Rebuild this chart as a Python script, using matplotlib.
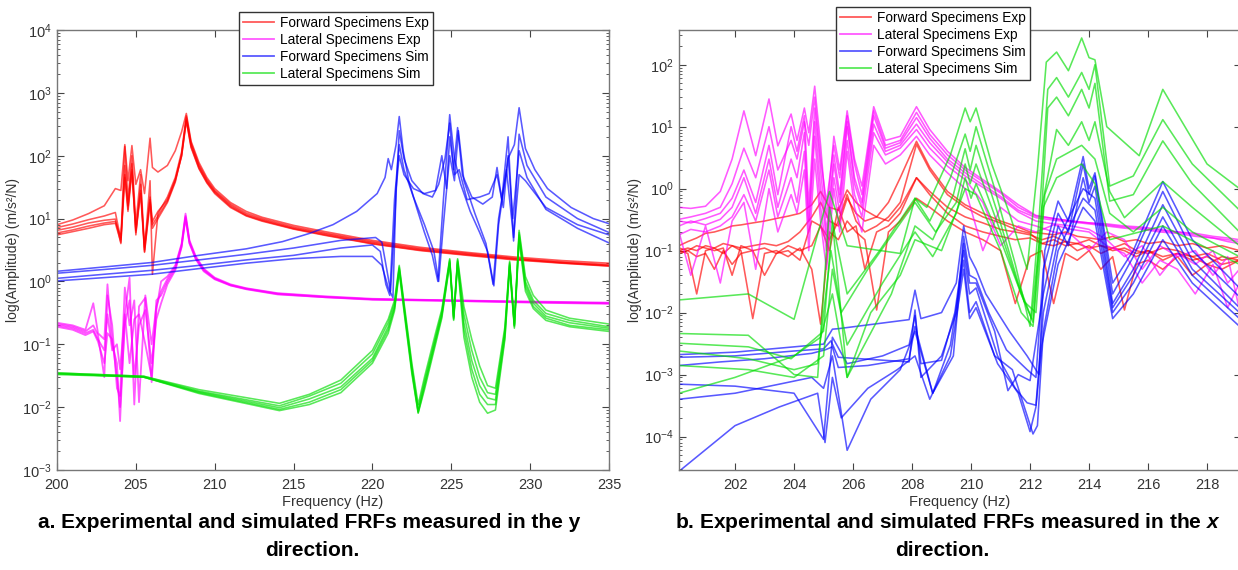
import matplotlib
matplotlib.use("Agg")
import matplotlib.pyplot as plt
from matplotlib.lines import Line2D
from matplotlib.ticker import LogLocator, NullFormatter

plt.rcParams['font.family'] = ['Liberation Sans', 'DejaVu Sans']
plt.rcParams['mathtext.fontset'] = 'custom'
plt.rcParams['mathtext.rm'] = 'Liberation Sans'
plt.rcParams['mathtext.it'] = 'Liberation Sans:italic:bold'
plt.rcParams['mathtext.bf'] = 'Liberation Sans:bold'

# ---------------- y direction (panel a) ----------------
fy_fwd_exp = [200, 201, 202, 203, 203.7, 204.05, 204.3, 204.5, 204.75, 205.0,
              205.3, 205.55, 205.9, 206.05, 206.4, 207.0, 207.5, 207.9, 208.2, 208.5,
              209.0, 209.5, 210, 211, 212, 213, 215, 217, 220, 223,
              226, 229, 232, 235]
ay_fwd_exp = [
    [8.0, 9.5, 12, 16, 30, 28, 150, 40, 145, 35, 60, 25, 190, 65, 55, 70, 120, 240, 470, 170,
     78, 45, 30, 18, 13, 10.5, 7.8, 6.2, 4.5, 3.5, 2.9, 2.45, 2.15, 1.95],
    [7.2, 8.2, 9.6, 11.0, 12.5, 4.6, 140, 20, 100, 8, 50, 3.2, 40, 1.3, 12, 22, 45, 115, 430, 160,
     72, 42, 28, 17, 12.2, 10, 7.4, 5.9, 4.3, 3.35, 2.8, 2.35, 2.05, 1.85],
    [6.5, 7.3, 8.5, 9.4, 9.8, 4.0, 70, 14, 75, 5.5, 35, 2.9, 18, 7, 10, 18, 38, 105, 400, 150,
     68, 40, 27, 16.2, 11.6, 9.6, 7.1, 5.7, 4.15, 3.25, 2.72, 2.3, 2.0, 1.8],
    [5.9, 6.6, 7.6, 8.5, 9.0, 5.0, 50, 16, 60, 6.5, 28, 3.5, 22, 9, 13, 20, 42, 100, 370, 140,
     64, 38, 26, 15.5, 11.2, 9.3, 6.9, 5.5, 4.0, 3.15, 2.65, 2.25, 1.97, 1.77],
    [5.5, 6.2, 7.0, 8.0, 8.4, 4.2, 45, 13, 55, 6.0, 25, 3.0, 20, 8, 11, 19, 40, 98, 360, 135,
     62, 37, 25, 15, 11.0, 9.1, 6.8, 5.4, 3.95, 3.1, 2.6, 2.2, 1.95, 1.75],
]

fy_lat_exp = [200, 201, 201.8, 202.3, 202.6, 203.0, 203.2, 203.5, 203.8, 204.0,
              204.3, 204.6, 204.9, 205.2, 205.6, 206.0, 206.3, 206.6, 207.0, 207.5,
              207.9, 208.15, 208.4, 208.8, 209.3, 210, 211, 212, 214, 217,
              220, 225, 230, 235]
ay_lat_exp = [
    [0.22, 0.2, 0.17, 0.45, 0.15, 0.12, 0.9, 0.1, 0.05, 0.006, 0.3, 1.15, 0.011, 0.4, 0.55,
     0.025, 0.35, 1.0, 1.2, 1.8, 4, 12, 4.5, 2.5, 1.6, 1.15, 0.9, 0.78, 0.65, 0.58,
     0.53, 0.5, 0.48, 0.46],
    [0.21, 0.19, 0.16, 0.2, 0.14, 0.03, 0.6, 0.2, 0.02, 0.015, 0.8, 0.2, 0.5, 0.012, 0.6,
     0.1, 0.4, 0.7, 1.1, 1.7, 3.8, 11, 4.3, 2.4, 1.55, 1.12, 0.88, 0.77, 0.64, 0.57,
     0.52, 0.5, 0.47, 0.45],
    [0.2, 0.18, 0.15, 0.17, 0.12, 0.08, 0.3, 0.08, 0.1, 0.04, 0.3, 0.05, 0.25, 0.3, 0.1,
     0.03, 0.5, 0.6, 1.0, 1.6, 3.6, 10.5, 4.1, 2.3, 1.5, 1.1, 0.87, 0.76, 0.63, 0.56,
     0.52, 0.49, 0.47, 0.45],
    [0.19, 0.17, 0.14, 0.16, 0.11, 0.05, 0.15, 0.12, 0.03, 0.01, 0.2, 0.5, 0.03, 0.2, 0.35,
     0.05, 0.25, 0.45, 0.9, 1.5, 3.5, 10, 4.0, 2.25, 1.45, 1.08, 0.86, 0.75, 0.62, 0.56,
     0.51, 0.49, 0.46, 0.44],
]

y_fwd_sim = [
    ([200, 203, 206, 209, 212, 214.3, 216, 217.5, 219, 220.3, 220.8, 221.0, 221.2, 221.5, 221.7,
      221.95, 222.3, 222.8, 223.3, 223.8, 224.15, 224.5, 224.9, 225.2, 225.6, 226.2, 226.8, 227.3,
      227.7, 228.0, 228.6, 229.0, 229.3, 229.7, 230.3, 231.1, 232.6, 234, 235],
     [1.45, 1.7, 2.0, 2.6, 3.3, 4.3, 5.8, 8, 13, 25, 45, 90, 60, 150, 420, 120, 40, 15, 6, 2.6,
      1.0, 20, 450, 90, 35, 13, 6, 3, 0.85, 8, 90, 150, 580, 130, 60, 30, 15, 10, 8.3]),
    ([200, 203, 206, 209, 212, 215, 218, 220.2, 220.6, 220.9, 221.15, 221.4, 221.7, 222.0, 222.5,
      223.2, 223.8, 224.2, 224.6, 224.9, 225.15, 225.4, 225.7, 226.3, 227.0, 227.6, 227.9, 228.2,
      228.6, 228.95, 229.3, 229.8, 231, 233, 235],
     [1.35, 1.55, 1.8, 2.2, 2.7, 3.4, 4.5, 5.0, 4.2, 1.6, 0.7, 8, 250, 90, 40, 25, 22, 35, 90, 330,
      60, 280, 50, 22, 17, 22, 65, 20, 200, 4.4, 220, 70, 22, 10, 6.0]),
    ([200, 203, 206, 209, 212, 215, 218, 220.0, 220.5, 220.85, 221.1, 221.4, 221.7, 222.0, 222.6,
      223.3, 223.9, 224.2, 224.5, 224.9, 225.2, 225.45, 225.8, 226.5, 227.2, 227.65, 228.0, 228.5,
      228.95, 229.3, 229.7, 231, 233, 235],
     [1.12, 1.3, 1.5, 1.8, 2.2, 2.6, 3.4, 3.8, 3.0, 0.9, 0.6, 20, 150, 60, 22, 8, 3, 1.0, 8, 100,
      40, 250, 40, 12, 4, 0.9, 10, 60, 5, 50, 40, 15, 8, 5.5]),
    ([200, 203, 206, 209, 212, 215, 218, 220.0, 220.6, 221.0, 221.3, 221.5, 221.7, 222.0, 222.6,
      223.3, 224.0, 224.4, 224.7, 224.9, 225.2, 225.5, 226.0, 226.8, 227.4, 227.9, 228.3, 228.6,
      228.9, 229.3, 229.8, 231, 233, 235],
     [1.02, 1.15, 1.3, 1.6, 1.95, 2.3, 2.5, 2.5, 1.8, 0.8, 0.55, 30, 100, 50, 30, 25, 28, 100, 30,
      200, 50, 60, 20, 22, 25, 50, 15, 100, 10, 120, 45, 14, 7, 4.1]),
]

fy_lat_sim = [200, 205.5, 209, 214.1, 216, 218, 220, 221.0, 221.4, 221.7,
              222.1, 222.5, 222.9, 223.3, 224.0, 224.4, 224.9, 225.15, 225.4, 225.8,
              226.3, 226.8, 227.3, 227.8, 228.4, 228.7, 229.0, 229.3, 229.7, 230.2,
              231, 232.5, 235]
ay_lat_sim = [
    [0.035, 0.031, 0.019, 0.0115, 0.016, 0.027, 0.08, 0.25, 0.5, 1.8, 0.3, 0.05, 0.011, 0.03,
     0.15, 0.36, 2.3, 0.28, 2.3, 0.4, 0.12, 0.045, 0.022, 0.02, 0.19, 2.1, 0.21, 6.5, 1.2, 0.6,
     0.35, 0.26, 0.21],
    [0.035, 0.031, 0.018, 0.0105, 0.015, 0.024, 0.07, 0.22, 0.45, 1.7, 0.27, 0.045, 0.0095, 0.026,
     0.13, 0.33, 2.2, 0.27, 2.2, 0.3, 0.08, 0.03, 0.017, 0.016, 0.17, 2.0, 0.2, 6.0, 1.0, 0.5,
     0.31, 0.24, 0.19],
    [0.034, 0.030, 0.0175, 0.0098, 0.0135, 0.021, 0.06, 0.19, 0.4, 1.6, 0.25, 0.04, 0.0085, 0.023,
     0.12, 0.3, 2.1, 0.26, 2.1, 0.22, 0.055, 0.022, 0.014, 0.013, 0.15, 1.9, 0.2, 5.5, 0.9, 0.45,
     0.28, 0.22, 0.18],
    [0.034, 0.030, 0.017, 0.0092, 0.012, 0.019, 0.055, 0.17, 0.37, 1.5, 0.23, 0.037, 0.0082, 0.021,
     0.11, 0.28, 2.0, 0.25, 2.0, 0.17, 0.04, 0.016, 0.011, 0.011, 0.13, 1.8, 0.19, 5.0, 0.8, 0.4,
     0.26, 0.2, 0.17],
    [0.033, 0.030, 0.0165, 0.0088, 0.011, 0.017, 0.05, 0.15, 0.34, 1.4, 0.21, 0.034, 0.008, 0.019,
     0.1, 0.26, 1.9, 0.24, 1.9, 0.13, 0.03, 0.012, 0.008, 0.009, 0.12, 1.7, 0.18, 4.6, 0.7, 0.37,
     0.24, 0.19, 0.16],
]

# ---------------- x direction (panel b) ----------------
fx_fwd_exp = [200.1, 200.4, 200.7, 201.0, 201.3, 201.6, 201.9, 202.2, 202.6, 203.0,
              203.4, 203.8, 204.2, 204.6, 204.9, 205.2, 205.5, 205.8, 206.1, 206.4,
              206.8, 207.2, 207.6, 208.15, 208.6, 209.2, 209.8, 210.4, 211.0, 211.5,
              212.0, 212.4, 212.8, 213.2, 213.6, 214.0, 214.4, 214.8, 215.2, 215.6,
              216.0, 216.5, 217.0, 217.5, 218.0, 218.5, 219.1]
ax_fwd_exp = [
    [0.1, 0.11, 0.1, 0.12, 0.11, 0.13, 0.12, 0.11, 0.12, 0.13, 0.12, 0.14, 0.2, 0.35, 0.6, 0.3,
     0.25, 0.7, 0.4, 0.3, 0.35, 0.6, 1.5, 5.8, 2.2, 0.9, 0.55, 0.4, 0.3, 0.25, 0.2, 0.19, 0.18,
     0.2, 0.17, 0.16, 0.15, 0.17, 0.14, 0.15, 0.13, 0.14, 0.12, 0.13, 0.11, 0.12, 0.1],
    [0.12, 0.14, 0.16, 0.19, 0.2, 0.22, 0.25, 0.26, 0.28, 0.3, 0.33, 0.36, 0.4, 0.55, 0.9, 0.5,
     0.45, 0.95, 0.6, 0.45, 0.35, 0.3, 0.5, 1.5, 0.9, 0.5, 0.35, 0.28, 0.22, 0.2, 0.18, 0.15, 0.17,
     0.14, 0.13, 0.15, 0.12, 0.11, 0.13, 0.1, 0.09, 0.11, 0.1, 0.08, 0.09, 0.07, 0.08],
    [0.1, 0.09, 0.02, 0.1, 0.11, 0.09, 0.12, 0.1, 0.008, 0.09, 0.1, 0.08, 0.11, 0.05, 0.0065, 0.2,
     0.15, 0.3, 0.2, 0.15, 0.011, 0.2, 0.3, 0.7, 0.5, 0.3, 0.2, 0.15, 0.1, 0.014, 0.08, 0.1, 0.014,
     0.09, 0.07, 0.1, 0.05, 0.08, 0.011, 0.06, 0.07, 0.05, 0.08, 0.04, 0.06, 0.05, 0.07],
    [0.09, 0.1, 0.08, 0.09, 0.05, 0.1, 0.06, 0.09, 0.1, 0.04, 0.09, 0.1, 0.07, 0.3, 0.25, 0.1,
     0.5, 0.2, 0.25, 0.05, 0.2, 0.25, 0.4, 1.5, 0.8, 0.4, 0.25, 0.2, 0.17, 0.15, 0.16, 0.13, 0.12,
     0.14, 0.1, 0.12, 0.09, 0.11, 0.1, 0.08, 0.1, 0.07, 0.09, 0.08, 0.06, 0.08, 0.07],
    [0.11, 0.1, 0.12, 0.11, 0.1, 0.11, 0.04, 0.12, 0.1, 0.11, 0.09, 0.12, 0.1, 0.12, 0.25, 0.15,
     0.3, 0.8, 0.3, 0.2, 0.25, 0.35, 0.6, 5.2, 2.0, 0.8, 0.5, 0.35, 0.28, 0.22, 0.19, 0.13, 0.15,
     0.12, 0.13, 0.11, 0.12, 0.1, 0.11, 0.09, 0.1, 0.08, 0.09, 0.07, 0.08, 0.06, 0.07],
]

fx_lat_exp = [200.1, 200.5, 201.0, 201.5, 201.9, 202.3, 202.7, 203.15, 203.45, 203.9,
              204.1, 204.35, 204.5, 204.7, 204.9, 205.1, 205.35, 205.55, 205.8, 206.05,
              206.3, 206.7, 207.1, 207.6, 208.15, 208.6, 209.2, 209.8, 210.4, 211.0,
              211.6, 212.2, 212.8, 213.4, 214.0, 214.6, 215.2, 215.8, 216.4, 217.0,
              217.6, 218.2, 218.7, 219.1]
ax_lat_exp = [
    [0.5, 0.48, 0.52, 0.9, 3, 18, 3.4, 28, 4.9, 16, 6, 20, 8, 45, 5, 0.34, 7, 2, 18, 3,
     1.1, 21, 6, 7, 21, 9, 4, 2.2, 1.4, 0.9, 0.55, 0.37, 0.33, 0.3, 0.28, 0.27, 0.25, 0.24, 0.22,
     0.2, 0.19, 0.17, 0.16, 0.15],
    [0.32, 0.35, 0.4, 0.5, 1.2, 4.5, 1.5, 10, 2, 6, 3, 12, 5, 30, 3, 0.6, 5, 1.5, 15, 2.5,
     0.8, 18, 5, 6, 17, 7.5, 3.5, 2, 1.3, 0.85, 0.5, 0.36, 0.33, 0.3, 0.28, 0.26, 0.24, 0.23, 0.21,
     0.2, 0.18, 0.16, 0.15, 0.14],
    [0.3, 0.28, 0.33, 0.4, 0.7, 2, 0.6, 5, 0.8, 10, 4, 15, 0.5, 20, 2, 0.2, 3.5, 0.8, 12, 1.5,
     0.6, 15, 4.5, 5.5, 14, 6.5, 3, 1.8, 1.15, 0.75, 0.45, 0.34, 0.31, 0.29, 0.27, 0.25, 0.23, 0.22,
     0.2, 0.19, 0.17, 0.16, 0.14, 0.13],
    [0.25, 0.3, 0.26, 0.32, 0.5, 1.5, 0.4, 3, 0.5, 3, 1.5, 8, 0.3, 12, 1, 0.15, 2.5, 0.6, 10, 1.2,
     0.5, 11, 4, 5, 11, 5.5, 2.7, 1.6, 1.05, 0.7, 0.42, 0.3, 0.27, 0.25, 0.22, 0.15, 0.08, 0.12,
     0.04, 0.09, 0.06, 0.1, 0.03, 0.05],
    [0.18, 0.22, 0.2, 0.25, 0.35, 0.8, 0.3, 2, 0.35, 1.5, 0.6, 4, 0.2, 7, 0.5, 0.1, 1.5, 0.4, 6, 0.8,
     0.35, 8, 3.5, 4.5, 9, 4.5, 2.3, 1.4, 0.6, 0.12, 0.25, 0.2, 0.26, 0.22, 0.2, 0.12, 0.09, 0.03,
     0.07, 0.05, 0.02, 0.06, 0.012, 0.03],
    [0.2, 0.04, 0.25, 0.03, 0.3, 0.6, 0.05, 1.0, 0.2, 0.8, 0.4, 2, 0.1, 3, 0.3, 0.05, 1, 0.2, 4, 0.5,
     0.2, 5, 2.5, 3.5, 7, 3.5, 1.8, 1.0, 0.1, 0.5, 0.3, 0.25, 0.2, 0.18, 0.1, 0.2, 0.15, 0.05,
     0.12, 0.08, 0.1, 0.04, 0.08, 0.011],
]

x_fwd_sim = [
    ([200.1, 202.0, 204.0, 205.0, 205.3, 205.5, 207.9, 208.1, 208.3, 209.0, 209.5, 209.75, 209.95,
      210.17, 210.5, 211.3, 211.9, 212.3, 212.5, 212.95, 213.3, 213.8, 214.0, 214.2, 214.8, 215.5,
      216.5, 217.5, 219.1],
     [0.0021, 0.0023, 0.0028, 0.0031, 0.0054, 0.0055, 0.0077, 0.023, 0.008, 0.01, 0.03, 0.25, 0.08,
      0.05, 0.02, 0.005, 0.002, 0.001, 0.1, 0.63, 0.3, 3.3, 1.0, 1.8, 0.03, 0.1, 1.3, 0.15, 0.025]),
    ([200.1, 202.0, 204.0, 205.0, 205.25, 205.5, 207.9, 208.1, 208.3, 209.0, 209.5, 209.75, 209.95,
      210.17, 210.6, 211.2, 211.9, 212.2, 212.45, 212.95, 213.3, 213.8, 214.0, 214.2, 214.8, 215.5,
      216.5, 217.5, 219.1],
     [0.0019, 0.002, 0.0024, 0.0026, 0.0035, 0.0019, 0.0016, 0.011, 0.0009, 0.002, 0.01, 0.17, 0.04,
      0.035, 0.01, 0.0025, 0.0012, 0.0009, 0.05, 0.4, 0.2, 2.5, 0.8, 1.6, 0.02, 0.08, 0.9, 0.1,
      0.018]),
    ([200.1, 201.5, 203.0, 204.6, 205.05, 205.3, 205.5, 206.5, 207.9, 208.1, 208.7, 209.4, 209.75,
      209.95, 210.17, 210.8, 211.25, 211.6, 212.0, 212.45, 212.95, 213.3, 213.8, 214.0, 214.2,
      214.8, 215.5, 216.5, 217.5, 219.1],
     [0.0014, 0.0016, 0.0018, 0.0022, 0.0025, 0.0028, 0.0013, 0.0014, 0.0018, 0.006, 0.0005, 0.002,
      0.13, 0.03, 0.03, 0.005, 0.00055, 0.001, 0.0008, 0.02, 0.25, 0.12, 1.5, 0.6, 1.1, 0.014, 0.05,
      0.55, 0.07, 0.012]),
    ([200.1, 202.0, 204.0, 205.0, 205.3, 205.8, 207.0, 207.9, 208.1, 208.3, 209.0, 209.45, 209.75,
      209.95, 210.17, 210.9, 211.5, 211.9, 212.2, 212.45, 212.95, 213.8, 214.2, 214.8, 215.5, 216.5,
      217.5, 219.1],
     [0.0007, 0.00065, 0.0005, 0.00009, 0.004, 0.0015, 0.002, 0.003, 0.009, 0.0015, 0.0017, 0.01,
      0.1, 0.02, 0.025, 0.002, 0.0006, 0.00035, 0.00032, 0.01, 0.15, 1.0, 0.7, 0.012, 0.04, 0.35,
      0.05, 0.01]),
    ([200.1, 202.0, 203.5, 204.6, 205.0, 205.3, 205.8, 206.6, 207.6, 208.1, 208.7, 209.3, 209.75,
      209.95, 210.17, 210.8, 211.4, 212.1, 212.25, 212.45, 212.95, 213.8, 214.2, 214.8, 215.5, 216.5,
      217.5, 219.1],
     [0.0004, 0.0005, 0.0007, 0.0009, 0.0006, 0.002, 0.00006, 0.0004, 0.0012, 0.005, 0.0005, 0.003,
      0.07, 0.01, 0.015, 0.002, 0.0012, 0.00011, 0.00015, 0.005, 0.1, 0.7, 0.45, 0.01, 0.03, 0.25,
      0.04, 0.008]),
    ([200.2, 202.0, 203.5, 204.8, 205.05, 205.3, 205.6, 206.5, 207.5, 208.1, 208.6, 209.3, 209.75,
      209.95, 210.17, 210.9, 211.6, 212.0, 212.2, 212.4, 212.95, 213.8, 214.2, 214.8, 215.5, 216.5,
      217.5, 219.1],
     [0.00003, 0.00015, 0.0003, 0.0005, 0.00008, 0.0009, 0.0002, 0.0006, 0.0012, 0.002, 0.0004,
      0.002, 0.05, 0.008, 0.012, 0.0015, 0.0005, 0.00012, 0.0003, 0.003, 0.06, 0.5, 0.3, 0.008, 0.02,
      0.15, 0.03, 0.006]),
]

x_lat_sim = [
    ([200.1, 202.45, 204.0, 205.2, 205.8, 207.6, 208.1, 208.5, 209.3, 209.8, 209.97, 210.17, 210.7,
      211.3, 211.9, 212.25, 212.55, 212.9, 213.3, 213.75, 214.0, 214.2, 214.6, 215.7, 216.5, 218.0,
      219.1],
     [0.016, 0.02, 0.0078, 0.9, 0.12, 0.09, 0.7, 0.5, 3.5, 20, 12, 20, 2.5, 0.4, 0.05, 2, 110, 160,
      80, 270, 130, 120, 10, 3.4, 40, 2.5, 1.0]),
    ([200.1, 202.45, 204.0, 204.8, 205.2, 205.8, 206.9, 208.1, 208.6, 209.3, 209.8, 209.97, 210.17,
      210.8, 211.5, 212.0, 212.3, 212.6, 212.9, 213.3, 213.75, 214.0, 214.2, 214.7, 215.5, 216.5,
      217.5, 219.1],
     [0.0046, 0.0043, 0.001, 0.0009, 0.5, 0.02, 0.1, 0.7, 0.3, 1.5, 7.6, 4, 10, 1, 0.06, 0.006, 0.3,
      40, 62, 30, 75, 40, 100, 1.1, 1.6, 13, 2.5, 0.45]),
    ([200.1, 202.45, 203.9, 205.0, 205.3, 205.8, 207.3, 208.1, 208.7, 209.4, 209.8, 209.97, 210.17,
      210.9, 211.6, 212.05, 212.35, 212.6, 212.9, 213.3, 213.75, 214.0, 214.2, 214.7, 215.5, 216.5,
      217.5, 219.1],
     [0.0032, 0.0028, 0.0018, 0.005, 0.3, 0.0009, 0.02, 0.25, 0.15, 0.8, 4.4, 2, 5, 0.4, 0.03,
      0.008, 0.2, 20, 30, 15, 40, 20, 50, 0.63, 0.8, 5.9, 1.2, 0.2]),
    ([200.1, 202.45, 204.0, 204.8, 205.25, 205.6, 206.5, 208.1, 208.8, 209.5, 209.8, 209.97, 210.17,
      211.0, 211.7, 212.1, 212.4, 212.9, 213.3, 213.75, 214.0, 214.2, 214.7, 215.2, 216.5, 217.5,
      219.1],
     [0.0024, 0.0018, 0.0012, 0.0015, 0.1, 0.01, 0.05, 0.6, 0.2, 0.6, 2.5, 1.2, 2.5, 0.2, 0.02,
      0.007, 0.5, 9, 5, 12, 6, 12, 0.9, 0.34, 1.3, 0.5, 0.12]),
    ([200.1, 202.45, 204.0, 205.0, 205.3, 205.8, 207.0, 208.1, 208.7, 209.5, 209.8, 210.0, 210.17,
      211.0, 211.8, 212.2, 212.5, 212.9, 213.75, 214.2, 214.7, 215.5, 216.5, 217.5, 219.1],
     [0.0014, 0.0012, 0.0009, 0.002, 0.05, 0.003, 0.03, 0.2, 0.08, 0.4, 1.5, 0.7, 1.2, 0.15, 0.015,
      0.01, 0.8, 3, 5, 3, 0.4, 0.2, 0.5, 0.2, 0.08]),
    ([200.1, 202.0, 204.0, 204.9, 205.3, 205.8, 206.6, 207.6, 208.1, 209.0, 209.8, 210.17, 211.0,
      211.7, 212.1, 212.45, 212.9, 213.75, 214.2, 214.7, 216.5, 219.1],
     [0.0005, 0.0009, 0.002, 0.004, 0.02, 0.0009, 0.01, 0.04, 0.15, 0.1, 1, 0.8, 0.1, 0.01, 0.006,
      0.5, 1.5, 2.5, 1.2, 0.15, 0.25, 0.06]),
]

# axis ticks shown on each panel
xticks_a = [200, 205, 210, 215, 220, 225, 230, 235]
yticks_a = [1e-3, 1e-2, 1e-1, 1e0, 1e1, 1e2, 1e3, 1e4]
xticks_b = [202, 204, 206, 208, 210, 212, 214, 216, 218]
yticks_b = [1e-4, 1e-3, 1e-2, 1e-1, 1e0, 1e1, 1e2]

labels = ['Forward Specimens Exp', 'Lateral Specimens Exp',
          'Forward Specimens Sim', 'Lateral Specimens Sim']
colors = ['#ff0000', '#ff00ff', '#0000ff', '#00dd00']
LW = 1.15
ALPHA = 0.65


def style_axes(ax, xticks, yticks):
    ax.set_yscale('log')
    ax.set_xticks(xticks)
    ax.set_yticks(yticks)
    ax.yaxis.set_minor_locator(LogLocator(base=10, subs=range(2, 10), numticks=20))
    ax.yaxis.set_minor_formatter(NullFormatter())
    ax.tick_params(which='both', direction='in', top=True, right=True,
                   colors='#444444', labelsize=10.5, labelcolor='#333333')
    ax.tick_params(which='major', length=5, width=0.8)
    ax.tick_params(which='minor', length=2.5, width=0.6)
    ax.tick_params(axis='x', pad=6)
    ax.tick_params(axis='y', pad=4)
    for s in ax.spines.values():
        s.set_color('#777777')
        s.set_linewidth(1.0)
    ax.set_xlabel('Frequency (Hz)', fontsize=10.5, color='#333333', labelpad=2)
    ax.set_ylabel('log(Amplitude) (m/s\u00b2/N)', fontsize=10, color='#333333', labelpad=1)


def add_legend(ax, x0, y0):
    handles = [Line2D([], [], color=c, lw=1.3, alpha=ALPHA) for c in colors]
    leg = ax.legend(handles, labels, loc='upper left', bbox_to_anchor=(x0, y0),
                    bbox_transform=ax.figure.transFigure, fontsize=9.8, frameon=True,
                    fancybox=False, edgecolor='#333333', framealpha=1.0,
                    borderpad=0.3, labelspacing=0.22, handlelength=2.3,
                    handletextpad=0.4, borderaxespad=0)
    leg.get_frame().set_linewidth(1.0)
    return leg


fig = plt.figure(figsize=(12.38, 5.70), dpi=100)
W, H = 1238.0, 570.0

# panel a: y direction
ax1 = fig.add_axes([57 / W, 100 / H, 552 / W, 440 / H])
for a in ay_fwd_exp:
    ax1.plot(fy_fwd_exp, a, color=colors[0], lw=LW, alpha=ALPHA)
for a in ay_lat_exp:
    ax1.plot(fy_lat_exp, a, color=colors[1], lw=1.3, alpha=ALPHA)
for f, a in y_fwd_sim:
    ax1.plot(f, a, color=colors[2], lw=LW, alpha=ALPHA)
for a in ay_lat_sim:
    ax1.plot(fy_lat_sim, a, color=colors[3], lw=LW, alpha=ALPHA)
style_axes(ax1, xticks_a, yticks_a)
ax1.set_xlim(200, 235)
ax1.set_ylim(1e-3, 1e4)
add_legend(ax1, 239 / W, 1 - 12 / H)

# panel b: x direction
ax2 = fig.add_axes([679 / W, 100 / H, 562 / W, 440 / H])
for a in ax_fwd_exp:
    ax2.plot(fx_fwd_exp, a, color=colors[0], lw=LW, alpha=ALPHA)
for a in ax_lat_exp:
    ax2.plot(fx_lat_exp, a, color=colors[1], lw=LW, alpha=ALPHA)
for f, a in x_fwd_sim:
    ax2.plot(f, a, color=colors[2], lw=LW, alpha=ALPHA)
for f, a in x_lat_sim:
    ax2.plot(f, a, color=colors[3], lw=LW, alpha=ALPHA)
style_axes(ax2, xticks_b, yticks_b)
ax2.set_xlim(200.1, 200.1 + 562 / 29.5)
ax2.set_ylim(10 ** -4.54, 10 ** 2.56)
add_legend(ax2, 836 / W, 1 - 7 / H)

# captions under the panels
cap = dict(ha='center', va='center', fontsize=15, fontweight='bold', color='black')
fig.text(309 / W, 1 - 523 / H, 'a. Experimental and simulated FRFs measured in the y', **cap)
fig.text(312 / W, 1 - 550 / H, 'direction.', **cap)
fig.text(948 / W, 1 - 523 / H, 'b. Experimental and simulated FRFs measured in the $x$', **cap)
fig.text(942 / W, 1 - 550 / H, 'direction.', **cap)

fig.savefig('out.png', dpi=100, facecolor='white')
